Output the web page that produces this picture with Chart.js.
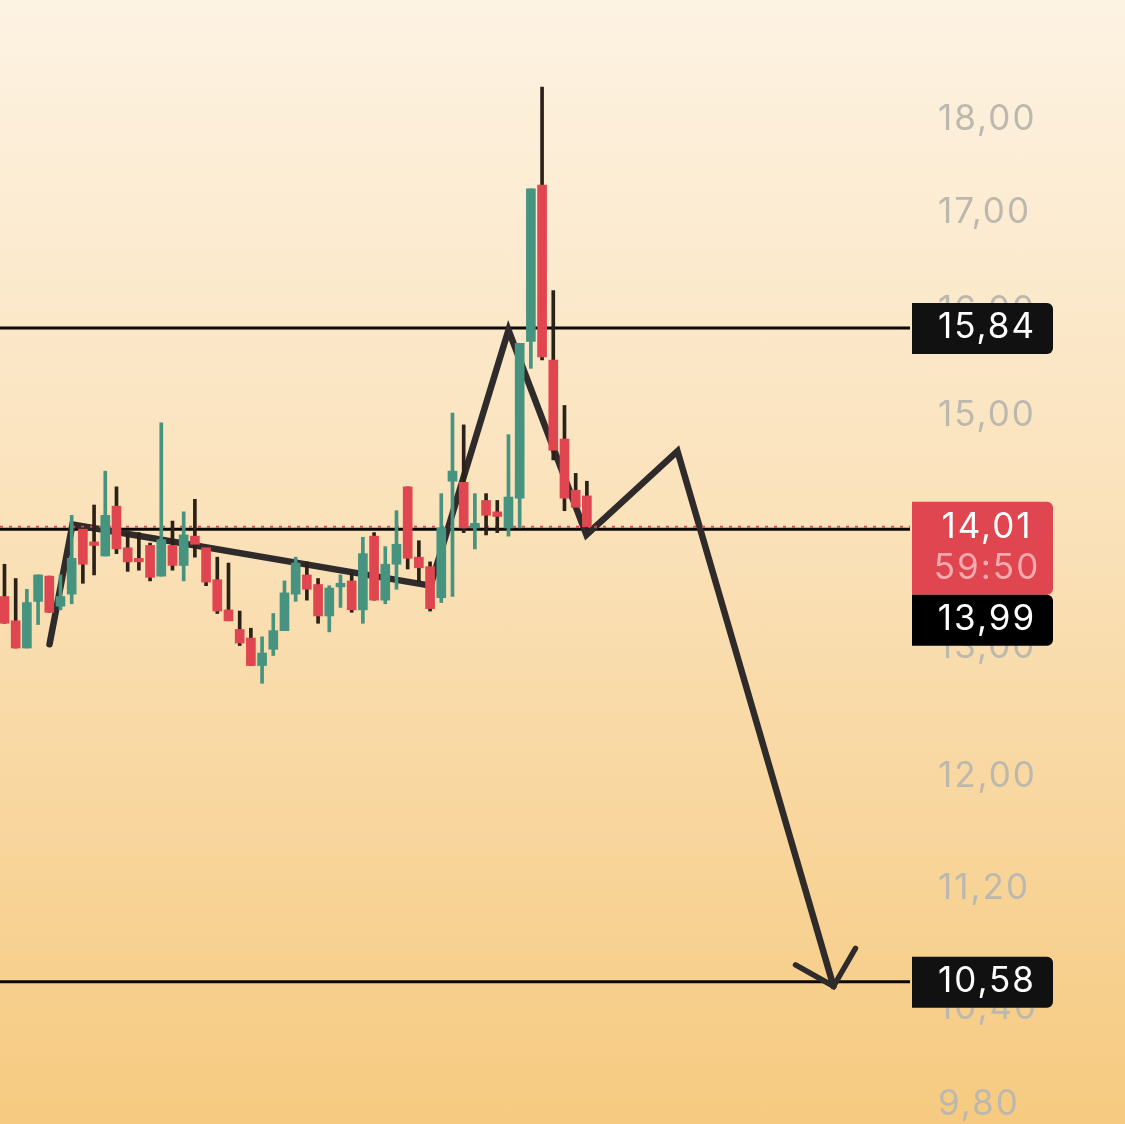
<!DOCTYPE html>
<html>
<head>
<meta charset="utf-8">
<script src="https://cdn.jsdelivr.net/npm/chart.js@4"></script>
<style>
  html, body { margin: 0; padding: 0; }
  body { width: 1125px; height: 1124px; overflow: hidden; background: linear-gradient(180deg, #fdf3e3 0%, #fae0b6 50%, #f6ca80 100%); }
  canvas { display: block; }
</style>
</head>
<body>
<canvas id="grafico" width="1125" height="1124"></canvas>
<script>
// candles, oldest first
const abre = [13.42,13.22,13.00,13.38,13.59,13.34,13.44,13.99,13.88,13.76,14.19,13.83,13.74,13.85,13.59,13.85,13.68,13.93,13.83,13.56,13.31,13.15,13.08,12.86,12.99,13.14,13.44,13.60,13.52,13.26,13.50,13.55,13.31,13.93,13.39,13.69,14.36,13.75,13.67,13.41,14.41,14.40,14.00,14.24,14.14,14.00,14.26,15.71,17.30,15.53,14.79,14.33,14.28];
const maxima = [13.69,13.57,13.48,13.60,13.59,13.60,14.11,14.00,14.20,14.50,14.36,13.95,13.96,13.87,14.94,14.06,14.14,14.25,13.83,13.75,13.70,13.30,13.16,13.09,13.28,13.55,13.75,13.71,13.57,13.51,13.60,13.61,13.92,13.96,13.84,14.15,14.36,13.89,13.71,14.30,15.03,14.92,14.30,14.30,14.24,14.83,15.69,17.26,18.38,16.21,15.10,14.48,14.41];
const minimas = [13.20,13.00,13.00,13.19,13.29,13.31,13.36,13.53,13.60,13.76,13.78,13.63,13.64,13.55,13.59,13.64,13.55,13.75,13.51,13.28,13.22,13.02,12.86,12.72,12.94,13.14,13.38,13.39,13.20,13.13,13.33,13.29,13.20,13.39,13.36,13.48,13.65,13.54,13.30,13.37,13.42,13.96,13.82,13.94,13.96,13.93,14.00,15.45,15.53,14.60,14.15,14.18,13.99];
const fecha = [13.20,13.00,13.37,13.60,13.29,13.42,13.74,13.69,13.85,14.11,13.82,13.71,13.71,13.58,13.90,13.68,13.94,13.86,13.54,13.30,13.22,13.04,12.86,12.96,13.14,13.45,13.70,13.48,13.26,13.49,13.53,13.31,13.78,13.39,13.69,13.86,13.74,13.66,13.32,14.00,14.50,14.00,14.04,14.11,14.10,14.27,15.69,17.26,15.56,14.69,14.26,14.18,14.01];

// hand drawn path and arrow head, x in candle units
const rotaX = [4.02, 6.07, 38.04, 45, 51.96, 60.09, 74.02];
const rotaY = [13.03, 14.03, 13.51, 15.82, 13.94, 14.68, 10.55];
const setaX = [70.63, 74.02, 75.98];
const setaY = [10.69, 10.55, 10.80];

const escalaTicks = [18, 17, 16, 15, 14, 13, 12, 11.2, 10.4, 9.8];
const nivelAlto = 15.84;
const nivelMedio = 13.99;
const nivelBaixo = 10.58;
const precoAtual = 14.01;
const contagem = '59:50';

const VERDE = '#46937f';
const VERMELHO = '#e0464f';
const PAVIO_ESCURO = '#2c2117';
const TRACO = '#2f2b2a';
const FONTE = 'Inter, Roboto, sans-serif';

const xMin = -0.40;
const xMax = 80.85;

const coresCorpo = abre.map((a, i) => fecha[i] >= a ? VERDE : VERMELHO);
const coresPavio = abre.map((a, i) => fecha[i] >= a ? VERDE : PAVIO_ESCURO);

function fmt(v) {
  return v.toFixed(2).replace('.', ',');
}

function linhaHorizontal(valor, cor, largura, extra) {
  return Object.assign({
    type: 'line',
    data: [{ x: xMin, y: valor }, { x: xMax, y: valor }],
    borderColor: cor,
    borderWidth: largura,
    pointRadius: 0,
    order: 5
  }, extra || {});
}

function linhaDesenho(xs, ys, largura) {
  return {
    type: 'line',
    data: xs.map((x, i) => ({ x, y: ys[i] })),
    borderColor: TRACO,
    borderWidth: largura,
    borderCapStyle: 'round',
    borderJoinStyle: 'miter',
    pointRadius: 0,
    tension: 0,
    order: 4
  };
}

// price tags over the axis
const etiquetas = {
  id: 'etiquetas',
  beforeDraw(chart) {
    chart.ctx.letterSpacing = '2px';
  },
  afterDraw(chart) {
    const ctx = chart.ctx;
    const y = chart.scales.y;
    const caixa = (topo, altura, cor) => {
      ctx.fillStyle = cor;
      ctx.beginPath();
      ctx.roundRect(912, topo, 141, altura, [0, 6, 6, 0]);
      ctx.fill();
    };
    const texto = (t, yc, cor) => {
      ctx.fillStyle = cor;
      ctx.fillText(t, 987, yc);
    };
    ctx.save();
    ctx.font = '35px ' + FONTE;
    ctx.textAlign = 'center';
    ctx.textBaseline = 'middle';

    const yAlto = y.getPixelForValue(nivelAlto);
    caixa(yAlto - 25, 51, '#111111');
    texto(fmt(nivelAlto), yAlto, '#ffffff');

    const yAtual = y.getPixelForValue(precoAtual);
    caixa(yAtual - 25, 93, VERMELHO);
    texto(fmt(precoAtual), yAtual + 1, '#ffffff');
    texto(contagem, yAtual + 42, '#f8aab0');

    caixa(yAtual + 68, 51, '#000000');
    texto(fmt(nivelMedio), yAtual + 93, '#ffffff');

    const yBaixo = y.getPixelForValue(nivelBaixo);
    caixa(yBaixo - 25, 51, '#111111');
    texto(fmt(nivelBaixo), yBaixo, '#ffffff');
    ctx.restore();
  }
};

new Chart(document.getElementById('grafico'), {
  type: 'bar',
  data: {
    datasets: [
      {
        data: abre.map((a, i) => ({ x: i, y: [a, fecha[i]] })),
        backgroundColor: coresCorpo,
        barThickness: 9,
        grouped: false,
        order: 1
      },
      {
        data: abre.map((a, i) => ({ x: i, y: [minimas[i], maxima[i]] })),
        backgroundColor: coresPavio,
        barThickness: 3,
        grouped: false,
        order: 2
      },
      linhaDesenho(rotaX, rotaY, 6.5),
      linhaDesenho(setaX, setaY, 5.5),
      linhaHorizontal(nivelAlto, '#0b0806', 3),
      linhaHorizontal(nivelBaixo, '#0b0806', 3),
      linhaHorizontal(nivelMedio, '#0b0806', 3),
      linhaHorizontal(precoAtual, '#e0464f', 2, { borderDash: [3, 6], order: 3 })
    ]
  },
  options: {
    responsive: false,
    animation: false,
    devicePixelRatio: 1,
    layout: { autoPadding: false, padding: 0 },
    plugins: { legend: { display: false }, tooltip: { enabled: false } },
    events: [],
    scales: {
      x: {
        type: 'linear',
        display: false,
        offset: false,
        min: xMin,
        max: xMax,
        grid: { display: false }
      },
      y: {
        type: 'logarithmic',
        position: 'right',
        bounds: 'data',
        min: 9.69,
        max: 19.395,
        grid: { display: false, drawTicks: false },
        border: { display: false },
        afterFit(scale) {
          scale.width = 215;
          // labels may hang over the plot edges
          scale.paddingTop = 0;
          scale.paddingBottom = 0;
        },
        afterBuildTicks(scale) { scale.ticks = escalaTicks.map(v => ({ value: v })); },
        ticks: {
          autoSkip: false,
          maxRotation: 0,
          padding: 28,
          labelOffset: -1,
          crossAlign: 'near',
          color: '#bdb8ae',
          font: { family: FONTE, size: 35 },
          callback: v => fmt(v)
        }
      }
    }
  },
  plugins: [etiquetas]
});
</script>
</body>
</html>
